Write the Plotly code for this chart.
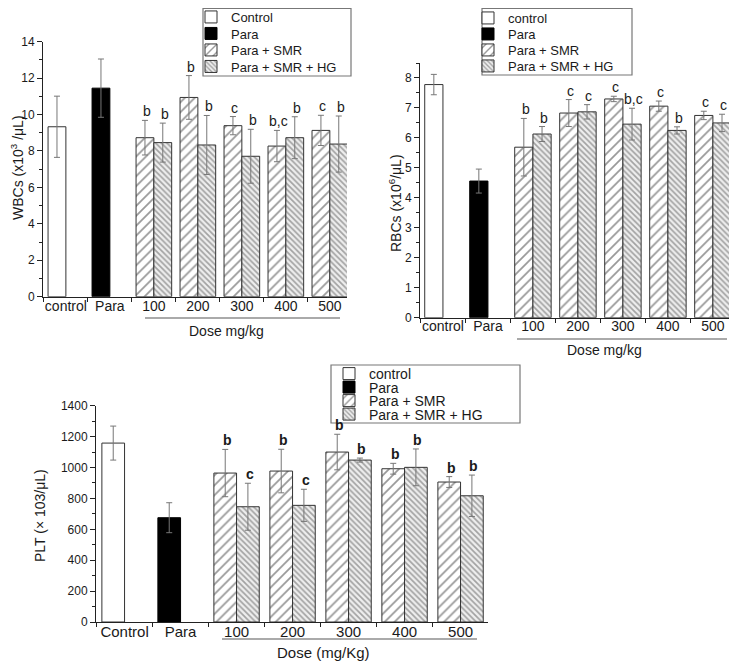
import plotly.graph_objects as go

# The page body adds an 8 px offset, so the figure is sized to fill the rest.
OFF = 8
W, H = 737 - OFF, 666 - OFF

# ---------------- data ----------------
cats_wbc = ["control", "Para", "100", "200", "300", "400", "500"]
cats_rbc = ["control", "Para", "100", "200", "300", "400", "500"]
cats_plt = ["Control", "Para", "100", "200", "300", "400", "500"]
doses = ["100", "200", "300", "400", "500"]

wbc_control = [9.33]
wbc_control_err = [1.68]
wbc_para = [11.45]
wbc_para_err = [1.60]
wbc_smr = [8.73, 10.94, 9.39, 8.27, 9.13]
wbc_smr_err = [0.95, 1.20, 0.50, 0.86, 0.83]
wbc_hg = [8.46, 8.33, 7.71, 8.73, 8.38]
wbc_hg_err = [1.07, 1.62, 1.48, 1.15, 1.54]
wbc_smr_sig = ["b", "b", "c", "b,c", "c"]
wbc_hg_sig = ["b", "b", "b", "b", "b"]

rbc_control = [7.78]
rbc_control_err = [0.34]
rbc_para = [4.56]
rbc_para_err = [0.40]
rbc_smr = [5.69, 6.83, 7.30, 7.06, 6.75]
rbc_smr_err = [0.96, 0.45, 0.09, 0.17, 0.14]
rbc_hg = [6.13, 6.87, 6.46, 6.25, 6.50]
rbc_hg_err = [0.25, 0.24, 0.53, 0.12, 0.29]
rbc_smr_sig = ["b", "c", "c", "c", "c"]
rbc_hg_sig = ["b", "c", "b,c", "b", "c"]

plt_control = [1158]
plt_control_err = [110]
plt_para = [675]
plt_para_err = [97]
plt_smr = [964, 977, 1100, 992, 906]
plt_smr_err = [153, 141, 115, 35, 35]
plt_hg = [746, 755, 1048, 1001, 817]
plt_hg_err = [152, 104, 13, 119, 134]
plt_smr_sig = ["b", "b", "b", "b", "b"]
plt_hg_sig = ["c", "c", "b", "b", "b"]

legend_names_1 = ["Control", "Para", "Para + SMR", "Para + SMR + HG"]
legend_names_23 = ["control", "Para", "Para + SMR", "Para + SMR + HG"]

# ---------------- styling helpers ----------------
FONT = "Liberation Sans, Arial, sans-serif"
TXT = "#1a1a1a"
ERR = dict(color="#777777", thickness=1, width=3)


def px_x(p):
    return (p - OFF) / W


def px_y(p):
    return 1 - (p - OFF) / H


fig = go.Figure()

panels = [
    dict(ax="", cats=cats_wbc, names=legend_names_1, leg0=1,
         control=(wbc_control, wbc_control_err), para=(wbc_para, wbc_para_err),
         smr=(wbc_smr, wbc_smr_err), hg=(wbc_hg, wbc_hg_err),
         smr_sig=wbc_smr_sig, hg_sig=wbc_hg_sig, slot=8.9, bold=False,
         box=(203, 351, 8.5, 76), rows=(17, 33.5, 50, 66.5), lfont=13, lshift=-12),
    dict(ax="2", cats=cats_rbc, names=legend_names_23, leg0=5,
         control=(rbc_control, rbc_control_err), para=(rbc_para, rbc_para_err),
         smr=(rbc_smr, rbc_smr_err), hg=(rbc_hg, rbc_hg_err),
         smr_sig=rbc_smr_sig, hg_sig=rbc_hg_sig, slot=9.0, bold=False,
         box=(482, 632, 8.5, 75), rows=(18, 34, 50, 66), lfont=13, lshift=-14),
    dict(ax="3", cats=cats_plt, names=legend_names_23, leg0=9,
         control=(plt_control, plt_control_err), para=(plt_para, plt_para_err),
         smr=(plt_smr, plt_smr_err), hg=(plt_hg, plt_hg_err),
         smr_sig=plt_smr_sig, hg_sig=plt_hg_sig, slot=11.2, bold=True,
         box=(331, 520, 365, 423), rows=(374, 387.5, 401, 414.5), lfont=14, lshift=-2),
]

SMR_PAT = dict(shape="/", size=7, solidity=0.25, fgcolor="#333333", bgcolor="white")
HG_PAT = dict(shape="\\", size=4, solidity=0.42, fgcolor="#555555", bgcolor="#eeeeee")

annotations = []
shapes = []
legends = {}


def leg_id(n):
    return "legend" if n == 1 else "legend%d" % n


for p in panels:
    xa, ya = "x" + p["ax"], "y" + p["ax"]
    g1, g2 = "g1" + p["ax"], "g2" + p["ax"]
    ag = "ag" + p["ax"]
    lids = [leg_id(p["leg0"] + i) for i in range(4)]
    common = dict(xaxis=xa, yaxis=ya, alignmentgroup=ag, showlegend=True)
    fig.add_trace(go.Bar(
        x=[p["cats"][0]], y=p["control"][0], name=p["names"][0],
        offsetgroup=g1, legend=lids[0], **common,
        marker=dict(color="white", line=dict(color="#333333", width=1)),
        error_y=dict(type="data", array=p["control"][1], **ERR)))
    fig.add_trace(go.Bar(
        x=[p["cats"][1]], y=p["para"][0], name=p["names"][1],
        offsetgroup=g1, legend=lids[1], **common,
        marker=dict(color="black", line=dict(color="black", width=1)),
        error_y=dict(type="data", array=p["para"][1], **ERR)))
    fig.add_trace(go.Bar(
        x=doses, y=p["smr"][0], name=p["names"][2],
        offsetgroup=g1, legend=lids[2], **common,
        marker=dict(color="white", line=dict(color="#333333", width=1),
                    pattern=SMR_PAT),
        error_y=dict(type="data", array=p["smr"][1], **ERR)))
    fig.add_trace(go.Bar(
        x=doses, y=p["hg"][0], name=p["names"][3],
        offsetgroup=g2, legend=lids[3], **common,
        marker=dict(color="#eeeeee", line=dict(color="#333333", width=1),
                    pattern=HG_PAT),
        error_y=dict(type="data", array=p["hg"][1], **ERR)))

    # one single-entry legend per row, framed by a common box
    bx0, bx1, by0, by1 = p["box"]
    for lid, ry in zip(lids, p["rows"]):
        legends[lid] = dict(x=px_x(bx0 + p["lshift"]), y=px_y(ry), xanchor="left",
                            yanchor="middle", bgcolor="rgba(0,0,0,0)",
                            borderwidth=0, itemwidth=30, itemclick=False,
                            itemdoubleclick=False,
                            font=dict(family=FONT, size=p["lfont"], color=TXT))
    shapes.append(dict(type="rect", xref="paper", yref="paper",
                       x0=px_x(bx0), x1=px_x(bx1), y0=px_y(by1), y1=px_y(by0),
                       line=dict(color="#777777", width=1.2), layer="above"))

    fw = "bold" if p["bold"] else "normal"
    for series, errs, sigs, sign in ((p["smr"][0], p["smr"][1], p["smr_sig"], -1),
                                     (p["hg"][0], p["hg"][1], p["hg_sig"], 1)):
        for d, v, e, s in zip(doses, series, errs, sigs):
            annotations.append(dict(
                x=p["cats"].index(d), y=v + e, xref=xa, yref=ya, text=s,
                showarrow=False, xanchor="center", yanchor="bottom", yshift=-1,
                xshift=sign * p["slot"] + 2,
                font=dict(family=FONT, size=14, color=TXT, weight=fw)))


def yaxis_cfg(domain, rng, dtick, minor, anchor):
    return dict(domain=domain, range=rng, dtick=dtick, tick0=0, anchor=anchor,
                automargin=False,
                showline=True, linecolor="#222222", linewidth=1,
                ticks="outside", ticklen=5, tickcolor="#222222",
                minor=dict(ticks="outside", ticklen=3, dtick=minor, tick0=0,
                           tickcolor="#222222"),
                showgrid=False, zeroline=False,
                tickfont=dict(family=FONT, size=12, color=TXT))


def xaxis_cfg(domain, rng, cats, anchor, fsize, standoff):
    return dict(domain=domain, range=rng, type="category",
                categoryorder="array", categoryarray=cats, automargin=False,
                showline=True, linecolor="#222222", linewidth=1,
                ticks="outside", ticklen=4, tickcolor="#222222",
                tickson="boundaries", showgrid=False, zeroline=False,
                anchor=anchor, tickangle=0, ticklabelstandoff=standoff,
                tickfont=dict(family=FONT, size=fsize, color=TXT))


layout = dict(
    width=W, height=H,
    margin=dict(l=0, r=0, t=0, b=0, pad=0, autoexpand=False),
    paper_bgcolor="white", plot_bgcolor="white", showlegend=True,
    barmode="group", bargap=0.19, bargroupgap=0,
    font=dict(family=FONT, color=TXT),
    xaxis=xaxis_cfg([px_x(43), px_x(347)], [-0.52, 6.39], cats_wbc, "y", 14, -4),
    yaxis=yaxis_cfg([px_y(296.7), px_y(41.7)], [0, 14], 2, 1, "x"),
    xaxis2=xaxis_cfg([px_x(420), px_x(732.7)], [-0.51, 6.44], cats_rbc, "y2", 14, -5),
    yaxis2=yaxis_cfg([px_y(317.7), px_y(63)], [0, 8.5], 1, 0.5, "x2"),
    xaxis3=xaxis_cfg([px_x(96), px_x(488)], [-0.51, 6.49], cats_plt, "y3", 15, -4),
    yaxis3=yaxis_cfg([px_y(622), px_y(405.7)], [0, 1400], 200, 100, "x3"),
)
layout.update(legends)

# axis titles and group labels
annotations += [
    dict(x=px_x(17), y=px_y(168), xref="paper", yref="paper", showarrow=False,
         xanchor="center", yanchor="middle",
         text="WBCs (x10<sup>3</sup> /μL)", textangle=-90,
         font=dict(family=FONT, size=14, color=TXT)),
    dict(x=px_x(395), y=px_y(203), xref="paper", yref="paper", showarrow=False,
         xanchor="center", yanchor="middle",
         text="RBCs (x10<sup>6</sup>/μL)", textangle=-90,
         font=dict(family=FONT, size=14, color=TXT)),
    dict(x=px_x(40), y=px_y(515), xref="paper", yref="paper", showarrow=False,
         xanchor="center", yanchor="middle",
         text="PLT (× 103/μL)", textangle=-90,
         font=dict(family=FONT, size=14, color=TXT)),
    dict(x=px_x(226), y=px_y(331), xref="paper", yref="paper", showarrow=False,
         xanchor="center", yanchor="middle",
         text="Dose mg/kg", font=dict(family=FONT, size=14, color=TXT)),
    dict(x=px_x(604), y=px_y(350), xref="paper", yref="paper", showarrow=False,
         xanchor="center", yanchor="middle",
         text="Dose mg/kg", font=dict(family=FONT, size=14, color=TXT)),
    dict(x=px_x(323), y=px_y(652), xref="paper", yref="paper", showarrow=False,
         xanchor="center", yanchor="middle",
         text="Dose (mg/Kg)", font=dict(family=FONT, size=15, color=TXT)),
]
layout["annotations"] = annotations

shape_line = dict(type="line", xref="paper", yref="paper",
                  line=dict(color="#aaaaaa", width=2))
shapes += [
    dict(shape_line, x0=px_x(145), x1=px_x(340), y0=px_y(318), y1=px_y(318)),
    dict(shape_line, x0=px_x(517), x1=px_x(727), y0=px_y(339), y1=px_y(339)),
    dict(shape_line, x0=px_x(222), x1=px_x(477), y0=px_y(639), y1=px_y(639)),
]
layout["shapes"] = shapes

fig.update_layout(**layout)
fig.write_html("out.html")
